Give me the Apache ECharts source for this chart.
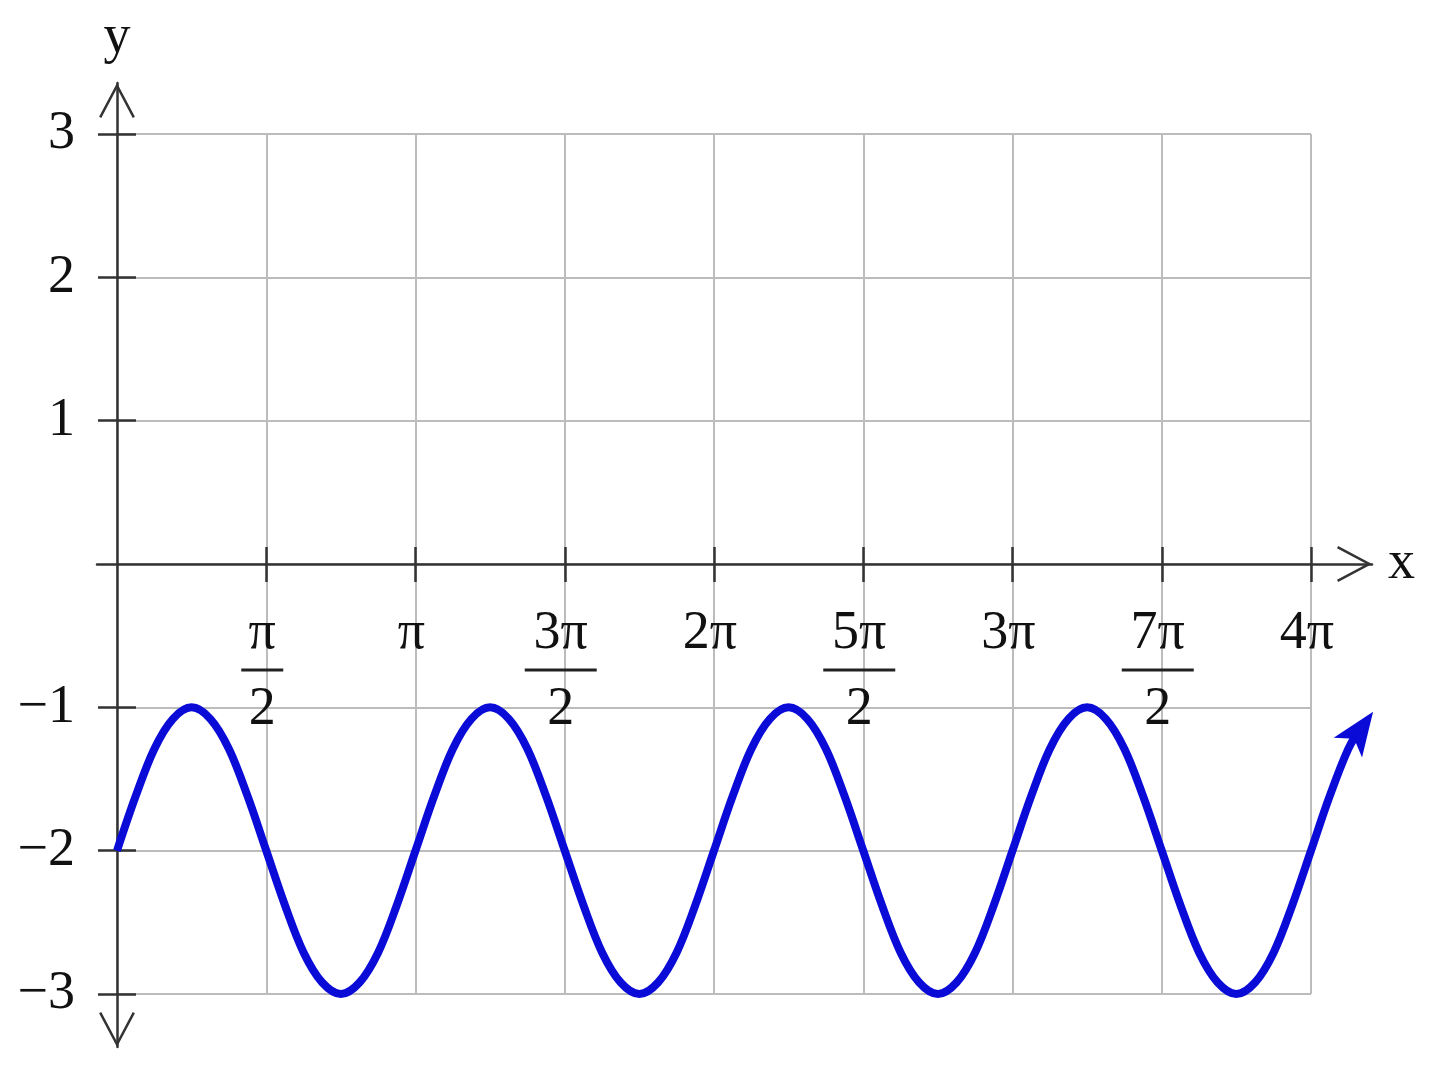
<!DOCTYPE html>
<html>
<head>
<meta charset="utf-8">
<script src="https://cdn.jsdelivr.net/npm/echarts@6/dist/echarts.min.js"></script>
<style>html,body{margin:0;padding:0;background:#fff}#c{width:1440px;height:1071px}</style>
</head>
<body>
<div id="c"></div>
<script>
// ---- data (x in multiples of π) ----
const xTickValues = [0.5, 1, 1.5, 2, 2.5, 3, 3.5, 4];
const xTickNumerators = ['π', 'π', '3π', '2π', '5π', '3π', '7π', '4π'];
const xTickDenominators = ['2', '', '2', '', '2', '', '2', ''];
const yTickValues = [-3, -2, -1, 1, 2, 3];
const yTickLabels = ['−3', '−2', '−1', '1', '2', '3'];
const curveX = [
  0, 0.0625, 0.125, 0.1875, 0.25, 0.3125, 0.375, 0.4375,
  0.5, 0.5625, 0.625, 0.6875, 0.75, 0.8125, 0.875, 0.9375,
  1, 1.0625, 1.125, 1.1875, 1.25, 1.3125, 1.375, 1.4375,
  1.5, 1.5625, 1.625, 1.6875, 1.75, 1.8125, 1.875, 1.9375,
  2, 2.0625, 2.125, 2.1875, 2.25, 2.3125, 2.375, 2.4375,
  2.5, 2.5625, 2.625, 2.6875, 2.75, 2.8125, 2.875, 2.9375,
  3, 3.0625, 3.125, 3.1875, 3.25, 3.3125, 3.375, 3.4375,
  3.5, 3.5625, 3.625, 3.6875, 3.75, 3.8125, 3.875, 3.9375,
  4, 4.0625, 4.125, 4.17
];
const curveY = [
  -2, -1.62, -1.29, -1.08, -1, -1.08, -1.29, -1.62,
  -2, -2.38, -2.71, -2.92, -3, -2.92, -2.71, -2.38,
  -2, -1.62, -1.29, -1.08, -1, -1.08, -1.29, -1.62,
  -2, -2.38, -2.71, -2.92, -3, -2.92, -2.71, -2.38,
  -2, -1.62, -1.29, -1.08, -1, -1.08, -1.29, -1.62,
  -2, -2.38, -2.71, -2.92, -3, -2.92, -2.71, -2.38,
  -2, -1.62, -1.29, -1.08, -1, -1.08, -1.29, -1.62,
  -2, -2.38, -2.71, -2.92, -3, -2.92, -2.71, -2.38,
  -2, -1.62, -1.29, -1.13
];
// tip of the arrowhead at the end of the curve
const arrowTip = [4.208, -1.03];

// ---- layout / style ----
const FONT = 'Liberation Serif';
const TEXT_COLOR = '#111';
const AXIS_COLOR = '#333';
const GRID_COLOR = '#bcbcbc';
const CURVE_COLOR = '#0b0bd8';
const CHEVRON = 'path://M18,0 L36,34 L33.79,35.17 L18,5.34 L2.21,35.17 L0,34 Z';

const G0 = { left: 117, top: 134, width: 1194, height: 860 };   // grid lines
const G1 = { left: 97, top: 83, width: 1275, height: 964 };     // axis lines + curve
const X0_MIN = 0, X0_MAX = 4, Y0_MIN = -3, Y0_MAX = 3;
const pxPerX = G0.width / (X0_MAX - X0_MIN);
const pxPerY = G0.height / (Y0_MAX - Y0_MIN);
const xMin1 = X0_MIN - (G0.left - G1.left) / pxPerX;
const xMax1 = X0_MIN + (G1.left + G1.width - G0.left) / pxPerX;
const yMax1 = Y0_MAX + (G0.top - G1.top) / pxPerY;
const yMin1 = Y0_MIN - (G1.top + G1.height - G0.top - G0.height) / pxPerY;
// grid used only to hang x tick labels under the y = 0 line
const G2 = { left: G0.left, top: G0.top, width: G0.width, height: G0.height * Y0_MAX / (Y0_MAX - Y0_MIN) };

function findIdx(arr, v) {
  for (let i = 0; i < arr.length; i++) if (Math.abs(arr[i] - v) < 1e-6) return i;
  return -1;
}
function xLabel(v) {
  const i = findIdx(xTickValues, v);
  if (i < 0) return '';
  const num = xTickNumerators[i], den = xTickDenominators[i];
  if (!den) return '{n|' + num + '}';
  return '{n|' + num + '}\n{' + (num.length > 1 ? 'b2' : 'b1') + '| }\n{d|' + den + '}';
}
function yLabel(v) {
  const i = findIdx(yTickValues, v);
  return i < 0 ? '' : yTickLabels[i];
}

const tickStyle = { color: AXIS_COLOR, width: 2.5 };
const gridBase = { outerBoundsMode: 'none', containLabel: false };
const chart = echarts.init(document.getElementById('c'), null, { renderer: 'canvas' });
chart.setOption({
  backgroundColor: '#fff',
  animation: false,
  grid: [
    Object.assign({}, gridBase, G0),
    Object.assign({}, gridBase, G1),
    Object.assign({}, gridBase, G2)
  ],
  xAxis: [
    {
      type: 'value', gridIndex: 0, min: X0_MIN, max: X0_MAX, interval: 0.5,
      axisLine: { show: false, onZero: false }, axisTick: { show: false }, axisLabel: { show: false },
      splitLine: { show: true, lineStyle: { color: GRID_COLOR, width: 2 } }
    },
    {
      type: 'value', gridIndex: 1, min: xMin1, max: xMax1, position: 'bottom',
      name: 'x', nameLocation: 'end', nameGap: 16,
      nameTextStyle: { fontFamily: FONT, fontSize: 54, color: TEXT_COLOR },
      axisLine: {
        show: true, onZero: true, onZeroAxisIndex: 1,
        symbol: ['none', CHEVRON], symbolSize: [36, 35], symbolOffset: [0, -17.5],
        lineStyle: { color: AXIS_COLOR, width: 2.5 }
      },
      axisTick: { show: true, inside: true, length: 17, customValues: xTickValues, lineStyle: tickStyle },
      axisLabel: { show: false },
      splitLine: { show: false }
    },
    {
      type: 'value', gridIndex: 1, min: xMin1, max: xMax1, position: 'top',
      axisLine: { show: false, onZero: true, onZeroAxisIndex: 1 },
      axisTick: { show: true, inside: true, length: 18, customValues: xTickValues, lineStyle: tickStyle },
      axisLabel: { show: false }, splitLine: { show: false }
    },
    {
      type: 'value', gridIndex: 2, min: X0_MIN, max: X0_MAX, position: 'bottom',
      axisLine: { show: false, onZero: false }, axisTick: { show: false },
      axisLabel: {
        show: true, customValues: xTickValues, margin: 50, formatter: xLabel,
        fontFamily: FONT, fontSize: 54, color: TEXT_COLOR, align: 'center', padding: [0, 8, 0, 0],
        rich: {
          n: { fontFamily: FONT, fontSize: 54, color: TEXT_COLOR, lineHeight: 40, align: 'center' },
          b1: { width: 42, height: 3, backgroundColor: '#222', lineHeight: 32, align: 'center' },
          b2: { width: 72, height: 3, backgroundColor: '#222', lineHeight: 32, align: 'center' },
          d: { fontFamily: FONT, fontSize: 54, color: TEXT_COLOR, lineHeight: 48, align: 'center' }
        }
      },
      splitLine: { show: false }
    }
  ],
  yAxis: [
    {
      type: 'value', gridIndex: 0, min: Y0_MIN, max: Y0_MAX, interval: 1,
      axisLine: { show: false, onZero: false }, axisTick: { show: false }, axisLabel: { show: false },
      splitLine: { show: true, lineStyle: { color: GRID_COLOR, width: 2 } }
    },
    {
      type: 'value', gridIndex: 1, min: yMin1, max: yMax1, position: 'left',
      name: 'y', nameLocation: 'end', nameGap: 18,
      nameTextStyle: { fontFamily: FONT, fontSize: 54, color: TEXT_COLOR },
      axisLine: {
        show: true, onZero: true, onZeroAxisIndex: 1,
        symbol: [CHEVRON, CHEVRON], symbolSize: [36, 35], symbolOffset: [17.5, -17.5],
        lineStyle: { color: AXIS_COLOR, width: 2.5 }
      },
      axisTick: { show: true, inside: true, length: 19, customValues: yTickValues, lineStyle: tickStyle },
      axisLabel: {
        show: true, customValues: yTickValues, margin: 22, formatter: yLabel,
        fontFamily: FONT, fontSize: 54, color: TEXT_COLOR
      },
      splitLine: { show: false }
    },
    {
      type: 'value', gridIndex: 1, min: yMin1, max: yMax1, position: 'right',
      axisLine: { show: false, onZero: true, onZeroAxisIndex: 1 },
      axisTick: { show: true, inside: true, length: 19, customValues: yTickValues, lineStyle: tickStyle },
      axisLabel: { show: false }, splitLine: { show: false }
    },
    {
      type: 'value', gridIndex: 2, min: 0, max: 1,
      axisLine: { show: false, onZero: false }, axisTick: { show: false }, axisLabel: { show: false },
      splitLine: { show: false }
    }
  ],
  series: [
    {
      type: 'line', xAxisIndex: 1, yAxisIndex: 1,
      data: curveX.map((x, i) => [x, curveY[i]]),
      smooth: 0.35, showSymbol: false, symbol: 'none',
      lineStyle: { color: CURVE_COLOR, width: 8, cap: 'butt', join: 'round' },
      z: 5, silent: true, clip: false
    },
    {
      type: 'scatter', xAxisIndex: 1, yAxisIndex: 1,
      data: [arrowTip], clip: false,
      symbol: 'arrow', symbolSize: [26, 44], symbolRotate: -35,
      itemStyle: { color: CURVE_COLOR, opacity: 1 }, z: 6, silent: true
    }
  ]
});
</script>
</body>
</html>
